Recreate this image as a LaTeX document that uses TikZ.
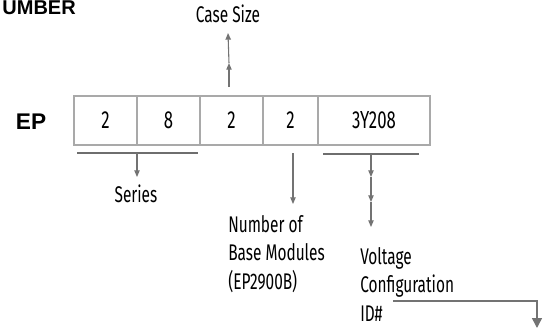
\documentclass[tikz,border=0pt]{standalone}
\usepackage{fontspec}
\setmainfont{Fira Sans}[FakeStretch=0.68]
\newfontfamily\headfont{Liberation Sans}
\usetikzlibrary{arrows.meta}
\definecolor{boxgray}{HTML}{A9A9A9}
\definecolor{linegray}{HTML}{6E6E6E}
\definecolor{arrowgray}{HTML}{737373}

\begin{document}
\begin{tikzpicture}[x=0.75pt, y=-0.75pt, >={Triangle[length=5pt,width=4pt]},
  cell/.style={draw=boxgray, line width=2.2pt, outer sep=0pt, inner sep=0pt,
    minimum height=36.75pt, font=\fontsize{18.5}{18}\selectfont},
  lbl/.style={font=\fontsize{17}{21.4}\selectfont, inner sep=0pt, align=left},
  brk/.style={draw=linegray, line width=1.3pt},
  pointer/.style={draw=arrowgray, line width=0.8pt, ->}]
\useasboundingbox (0,0) rectangle (544,330);
% titel en prefix
\node[font=\headfont\bfseries\fontsize{15}{16}\selectfont, anchor=base east, inner sep=0pt] (title) at (76,14) {UMBER};
\node[font=\headfont\bfseries\fontsize{17}{18}\selectfont, anchor=base, inner sep=0pt] (ep) at (31,129.5) {EP};
% vakjes van het nummer
\node[cell, minimum width=47.25pt] (b1) at (105.5,120.5) {2};
\node[cell, minimum width=47.25pt] (b2) at (168.5,120.5) {8};
\node[cell, minimum width=47.25pt] (b3) at (231.5,120.5) {2};
\node[cell, minimum width=41.25pt] (b4) at (290.5,120.5) {2};
\node[cell, minimum width=84pt] (b5) at (374,120.5) {3Y208};
% Case Size
\node[lbl, anchor=base] (cs) at (228,22.5) {Case Size};
\coordinate (csA) at (229,87);
\coordinate (csB) at (229,63);
\draw[pointer] (csA) -- (csB);
\draw[pointer] (csB) -- (cs.south |- 0,33);
% Series
\node[lbl, anchor=base] (ser) at (136,202) {Series};
\draw[brk] (77,153) -- (198,153);
\draw[pointer] (137,153) -- (137,177);
% Number of Base Modules
\node[lbl, anchor=north west] (nbm) at (228,215) {Number of\\Base Modules\\(EP2900B)};
\draw[pointer] (293,153) -- (293,204);
% Voltage Configuration ID#
\node[lbl, anchor=north west] (vc) at (360,247) {Voltage\\Configuration\\ID\#};
\draw[brk] (323,154) -- (419,154);
\foreach \a/\b in {154/177, 177/202, 202/227}
  \draw[pointer] (371,\a) -- (371,\b);
\coordinate (idA) at (393,301);
\coordinate (idB) at (537,328);
\draw[draw=arrowgray, line width=1.1pt, -{Triangle[length=7.5pt,width=7.5pt]}] (idA) -| (idB);
\end{tikzpicture}
\end{document}
